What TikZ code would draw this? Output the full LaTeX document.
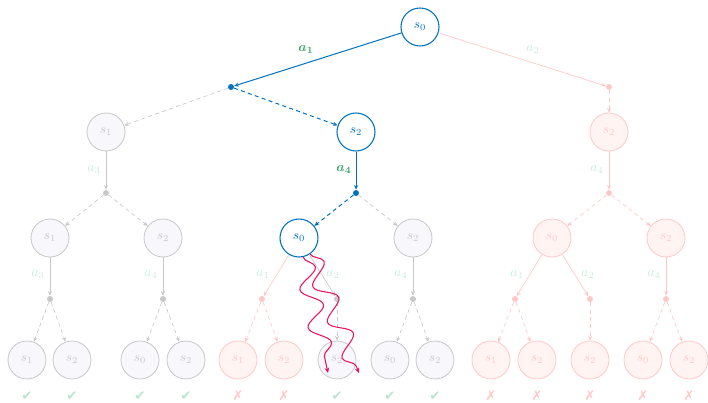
\documentclass[tikz,border=0pt]{standalone}
\usepackage{fontspec}
\usepackage{amsmath}
\usepackage{bm}
\newfontfamily\symfont{DejaVu Sans}
\usetikzlibrary{arrows.meta,decorations.pathmorphing}

\definecolor{pathblue}{RGB}{0,114,189}
\definecolor{actgreen}{RGB}{60,168,110}
\definecolor{actfade}{RGB}{200,234,220}
\definecolor{greyline}{RGB}{200,200,200}
\definecolor{greyfill}{RGB}{248,247,252}
\definecolor{redline}{RGB}{255,200,200}
\definecolor{redfill}{RGB}{255,244,242}
\definecolor{wavecol}{RGB}{232,20,100}
\definecolor{okfade}{RGB}{190,228,210}

\tikzset{
  state/.style={circle, minimum size=28.5pt, inner sep=0pt, line width=0.6pt},
  greystate/.style={state, draw=greyline, fill=greyfill, text=greyline},
  redstate/.style={state, draw=redline, fill=redfill, text=redline},
  bluestate/.style={state, draw=pathblue, fill=white, text=pathblue, line width=0.8pt},
  chance/.style={circle, inner sep=0pt, minimum size=4.5pt},
  greychance/.style={chance, fill=greyline},
  redchance/.style={chance, fill=redline},
  bluechance/.style={chance, fill=pathblue},
  act/.style={-{Stealth[length=3.5pt,width=3pt]}, line width=0.5pt},
  trans/.style={act, dash pattern=on 3pt off 2.5pt},
  greyact/.style={act, greyline},
  redact/.style={act, redline},
  blueact/.style={act, pathblue, line width=0.75pt},
  greytrans/.style={trans, greyline},
  redtrans/.style={trans, redline},
  bluetrans/.style={trans, pathblue, line width=0.75pt},
  lab/.style={text=actfade},
  boldlab/.style={text=actgreen},
  okmark/.style={font=\symfont\fontsize{10}{10}\selectfont, text=okfade},
  badmark/.style={font=\symfont\fontsize{10}{10}\selectfont, text=redline},
  rollout/.style={wavecol, line width=0.8pt, decorate,
    decoration={snake, segment length=29pt, amplitude=7.5pt, post length=5pt},
    -{Stealth[length=4pt,width=3.5pt]}}
}

\begin{document}
\begin{tikzpicture}[x=0.75pt, y=-0.75pt]
\useasboundingbox (0,0) rectangle (708,403);

% root and first action layer
\node[bluestate] (r) at (420,27) {$s_0$};
\node[bluechance] (ca1) at (231,87) {};
\node[redchance] (ca2) at (609,87) {};

% depth 1 states
\node[greystate] (n1) at (106,132) {$s_1$};
\node[bluestate] (n2) at (356,132) {$s_2$};
\node[redstate]  (n3) at (609,132) {$s_2$};

% depth 1 actions
\node[greychance] (c1) at (106,193) {};
\node[bluechance] (c2) at (356,193) {};
\node[redchance]  (c3) at (609,193) {};

% depth 2 states
\node[greystate] (m1) at (50,238) {$s_1$};
\node[greystate] (m2) at (163,238) {$s_2$};
\node[bluestate] (m3) at (299,238) {$s_0$};
\node[greystate] (m4) at (413,238) {$s_2$};
\node[redstate]  (m5) at (552,238) {$s_0$};
\node[redstate]  (m6) at (666,238) {$s_2$};

% depth 2 actions
\node[greychance] (d1) at (50,299) {};
\node[greychance] (d2) at (163,299) {};
\node[redchance]  (d3) at (262,299) {};
\node[greychance] (d4) at (337,299) {};
\node[greychance] (d5) at (413,299) {};
\node[redchance]  (d6) at (515,299) {};
\node[redchance]  (d7) at (590,299) {};
\node[redchance]  (d8) at (666,299) {};

% leaves
\node[greystate] (l1)  at (27,360)  {$s_1$};
\node[greystate] (l2)  at (72,360)  {$s_2$};
\node[greystate] (l3)  at (140,360) {$s_0$};
\node[greystate] (l4)  at (186,360) {$s_2$};
\node[redstate]  (l5)  at (238,360) {$s_1$};
\node[redstate]  (l6)  at (284,360) {$s_2$};
\node[greystate] (l7)  at (337,360) {$s_2$};
\node[greystate] (l8)  at (390,360) {$s_0$};
\node[greystate] (l9)  at (435,360) {$s_2$};
\node[redstate]  (l10) at (491,360) {$s_1$};
\node[redstate]  (l11) at (537,360) {$s_2$};
\node[redstate]  (l12) at (590,360) {$s_2$};
\node[redstate]  (l13) at (643,360) {$s_0$};
\node[redstate]  (l14) at (689,360) {$s_2$};

% edges: actions (solid) and transitions (dashed)
\draw[blueact] (r) -- (ca1);
\draw[redact]  (r) -- (ca2);
\draw[greytrans] (ca1) -- (n1);
\draw[bluetrans] (ca1) -- (n2);
\draw[redtrans]  (ca2) -- (n3);

\draw[greyact] (n1) -- (c1);
\draw[blueact] (n2) -- (c2);
\draw[redact]  (n3) -- (c3);

\draw[greytrans] (c1) -- (m1);
\draw[greytrans] (c1) -- (m2);
\draw[bluetrans] (c2) -- (m3);
\draw[greytrans] (c2) -- (m4);
\draw[redtrans]  (c3) -- (m5);
\draw[redtrans]  (c3) -- (m6);

\draw[greyact] (m1) -- (d1);
\draw[greyact] (m2) -- (d2);
\draw[redact]  (m3) -- (d3);
\draw[greyact] (m3) -- (d4);
\draw[greyact] (m4) -- (d5);
\draw[redact]  (m5) -- (d6);
\draw[redact]  (m5) -- (d7);
\draw[redact]  (m6) -- (d8);

\draw[greytrans] (d1) -- (l1);
\draw[greytrans] (d1) -- (l2);
\draw[greytrans] (d2) -- (l3);
\draw[greytrans] (d2) -- (l4);
\draw[redtrans]  (d3) -- (l5);
\draw[redtrans]  (d3) -- (l6);
\draw[greytrans] (d4) -- (l7);
\draw[greytrans] (d5) -- (l8);
\draw[greytrans] (d5) -- (l9);
\draw[redtrans]  (d6) -- (l10);
\draw[redtrans]  (d6) -- (l11);
\draw[redtrans]  (d7) -- (l12);
\draw[redtrans]  (d8) -- (l13);
\draw[redtrans]  (d8) -- (l14);

% action labels
\node[boldlab] (t1) at (306,50) {$\bm{a_1}$};
\node[lab] (t2) at (533,50) {$a_2$};
\node[lab] (t3) at (94,170) {$a_3$};
\node[boldlab] (t4) at (344,170) {$\bm{a_4}$};
\node[lab] (t5) at (597,170) {$a_4$};
\node[lab] (t6) at (38,275) {$a_3$};
\node[lab] (t7) at (151,275) {$a_4$};
\node[lab] (t8) at (263,275) {$a_1$};
\node[lab] (t9) at (333,275) {$a_2$};
\node[lab] (t10) at (401,275) {$a_4$};
\node[lab] (t11) at (517,275) {$a_1$};
\node[lab] (t12) at (588,275) {$a_2$};
\node[lab] (t13) at (654,275) {$a_4$};

% rollouts from the expanded node
\coordinate (w1e) at (328,373);
\coordinate (w2e) at (359,373);
\draw[rollout] (m3.-78) -- (w1e);
\draw[rollout] (m3.-55) -- (w2e);

% outcome marks under the leaves
\node[okmark]  (k1)  at (27,396)  {✔};
\node[okmark]  (k2)  at (72,396)  {✔};
\node[okmark]  (k3)  at (140,396) {✔};
\node[okmark]  (k4)  at (186,396) {✔};
\node[badmark] (k5)  at (238,396) {✗};
\node[badmark] (k6)  at (284,396) {✗};
\node[okmark]  (k7)  at (337,396) {✔};
\node[okmark]  (k8)  at (390,396) {✔};
\node[okmark]  (k9)  at (435,396) {✔};
\node[badmark] (k10) at (491,396) {✗};
\node[badmark] (k11) at (537,396) {✗};
\node[badmark] (k12) at (590,396) {✗};
\node[badmark] (k13) at (643,396) {✗};
\node[badmark] (k14) at (689,396) {✗};
\end{tikzpicture}
\end{document}
